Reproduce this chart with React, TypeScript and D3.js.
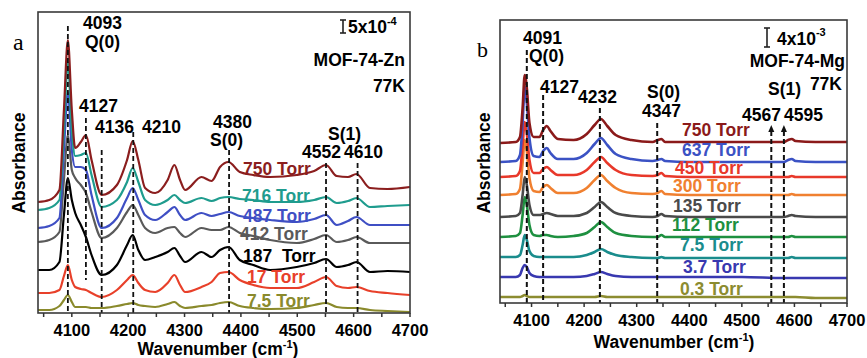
import React from 'react';
import * as d3 from 'd3';

// ---------- Panel a : MOF-74-Zn ----------
const A_WN = [4040,4060,4078,4086,4093,4100,4106,4116,4125,4135,4153,4180,4198,4208,4218,4230,4248,4270,4282,4292,4301,4330,4348,4363,4378,4398,4422,4452,4499,4530,4551,4570,4590,4605,4629,4660,4700];
const A_750 = [111,113,123,203,273,203,165,171,178,153,118,128,153,172,153,125,120,133,148,133,123,136,132,146,151,141,138,136,138,142,148,137,136,139,125,124,126];
const A_716 = [103,105,113,183,251,183,157,158,160,138,106,113,131,145,131,113,108,113,118,113,110,115,112,115,116,114,113,111,111,113,116,110,112,115,106,107,108];
const A_487 = [85,87,95,163,221,163,146,146,143,118,85,95,115,125,113,98,93,101,106,98,93,100,97,99,101,97,95,93,91,94,98,88,92,96,88,88,88];
const A_412 = [71,73,81,133,178,143,135,128,120,101,75,85,101,108,98,85,80,85,86,80,76,85,83,83,86,80,77,73,70,74,78,71,73,76,70,70,70];
const A_187 = [43,43,51,98,135,113,100,88,76,58,38,48,68,78,63,53,56,61,65,57,51,61,56,63,66,53,48,43,46,50,54,46,48,51,41,42,41];
const A_17 = [20,20,23,37,48,33,26,24,23,20,16,23,33,38,30,23,21,30,38,28,21,26,31,40,41,33,28,25,25,31,36,27,25,26,22,20,18];
const A_7_5 = [3,3,7,13,18,11,6,6,6,5,5,7,9,10,8,7,6,9,11,7,5,7,8,10,11,7,5,4,5,8,10,6,5,5,3,2,1];
const A_SERIES = [A_7_5, A_17, A_187, A_412, A_487, A_716, A_750];
const A_NAMES = ['7.5 Torr', '17 Torr', '187  Torr', '412 Torr', '487 Torr', '716 Torr', '750 Torr'];
const A_COLORS = ['#8a8a2c', '#e8402a', '#000000', '#5a5a5a', '#3f4fc4', '#1f9c8e', '#8b1e1e'];
const A_LINE_WN = [4093, 4125, 4153, 4209, 4379, 4551, 4607];
const A_LINE_TOP = [287, 195, 163, 181, 163, 150, 150];
const A_LINE_BOTTOM = [0, 33, 0, 0, 0, 0, 0];

// ---------- Panel b : MOF-74-Mg ----------
const B_WN = [4040,4070,4078,4083,4087,4091,4096,4104,4115,4122,4129,4136,4150,4180,4205,4220,4232,4244,4260,4290,4330,4340,4347,4354,4400,4500,4580,4588,4595,4602,4640,4700];
const B_750 = [160,161,166,195,228,215,180,166,166,173,177,172,164,163,169,178,184,177,168,163,161,163,164,161,161,161,161,163,164,162,161,161];
const B_637 = [141,142,148,180,216,200,165,147,146,152,155,150,144,144,150,159,165,158,149,144,142,143,144,142,141,141,141,143,144,142,141,141];
const B_450 = [126,127,132,158,181,170,143,130,130,134,136,133,128,128,133,141,146,140,133,128,127,128,130,127,126,126,126,126,127,126,126,126];
const B_300 = [108,109,114,140,163,152,125,112,111,116,118,115,110,110,115,123,128,122,115,110,109,110,112,109,108,108,108,108,109,108,108,108];
const B_135 = [86,87,90,108,126,118,98,88,88,89,90,89,87,87,90,96,101,96,90,87,86,87,89,87,86,86,86,87,88,87,86,86];
const B_112 = [66,67,70,88,106,98,78,68,67,68,68,67,66,67,70,76,81,76,70,67,66,66,68,66,66,66,66,66,67,66,66,66];
const B_7_5 = [46,46,48,58,68,63,52,47,46,46,46,46,46,46,48,51,54,51,48,46,45,45,46,45,45,45,45,45,46,45,45,45];
const B_3_7 = [26,26,28,35,38,36,30,27,26,26,26,26,26,26,27,29,31,29,27,26,26,26,26,26,26,26,25,25,25,25,25,25];
const B_0_3 = [6,6,6,7,8,7,6,6,6,6,6,6,6,6,6,6,7,6,6,6,6,6,6,6,6,6,6,6,6,6,5,5];
const B_SERIES = [B_0_3, B_3_7, B_7_5, B_112, B_135, B_300, B_450, B_637, B_750];
const B_NAMES = ['0.3 Torr', '3.7 Torr', '7.5 Torr', '112 Torr', '135 Torr', '300 Torr', '450 Torr', '637 Torr', '750 Torr'];
const B_COLORS = ['#8c8c30', '#3838b0', '#1a8c8c', '#1e9040', '#4a4a4a', '#f08030', '#e8382a', '#3b52c4', '#8b1a1a'];
const B_LINE_WN = [4091, 4122, 4230, 4339, 4556, 4580];
const B_LINE_TOP = [253, 208, 195, 180, 172, 172];

const X_TICKS = [4100, 4200, 4300, 4400, 4500, 4600, 4700];
const X_MINOR = [4050, 4100, 4150, 4200, 4250, 4300, 4350, 4400, 4450, 4500, 4550, 4600, 4650, 4700];

const FONT = '"Liberation Sans", Arial, Helvetica, sans-serif';

type Frame = { l: number; t: number; r: number; b: number };

function Axis({ x, f, labelBaseline, titleBaseline, titleX }: { x: d3.ScaleLinear<number, number>; f: Frame; labelBaseline: number; titleBaseline: number; titleX: number }) {
  return (
    <g>
      <rect x={f.l} y={f.t} width={f.r - f.l} height={f.b - f.t} fill="none" stroke="#3a3a3a" strokeWidth={1.6} />
      {X_MINOR.map((v) => (
        <line key={v} x1={x(v)} x2={x(v)} y1={f.b} y2={f.b + 4} stroke="#333" strokeWidth={1.5} />
      ))}
      {X_TICKS.map((v) => (
        <text key={v} x={x(v)} y={labelBaseline} textAnchor="middle" fontSize={16.5} fontWeight="bold" fontFamily={FONT}>{v}</text>
      ))}
      <text x={titleX} y={titleBaseline} textAnchor="middle" fontSize={17.5} fontWeight="bold" fontFamily={FONT}>
        Wavenumber (cm<tspan fontSize={11} dy={-7}>-1</tspan><tspan dy={7}>)</tspan>
      </text>
    </g>
  );
}

export default function App() {
  const fa: Frame = { l: 38, t: 12, r: 410, b: 313 };
  const xa = d3.scaleLinear().domain([4040, 4700]).range([fa.l, fa.r]);
  const ya = d3.scaleLinear().domain([0, 301]).range([fa.b, fa.t]);
  const lineA = d3.line<number>().x((_, i) => xa(A_WN[i])).y((d) => ya(d)).curve(d3.curveMonotoneX);

  const fb: Frame = { l: 500, t: 20, r: 847, b: 303 };
  const xb = d3.scaleLinear().domain([4040, 4700]).range([fb.l, fb.r]);
  const yb = d3.scaleLinear().domain([0, 283]).range([fb.b, fb.t]);
  const lineB = d3.line<number>().x((_, i) => xb(B_WN[i])).y((d) => yb(d)).curve(d3.curveMonotoneX);

  const txt = { fontFamily: FONT, fontWeight: 'bold' as const, fontSize: 17.5 };

  const aPos = [[247, 307], [247, 283], [243, 262], [240, 240], [243, 222], [242, 202], [243, 175]];
  const bPos = [[680, 295], [683, 273], [680, 251], [672, 231], [673, 212], [673, 192], [675, 174], [682, 156], [682, 136]];

  return (
    <svg width={867} height={358} style={{ position: 'absolute', left: 0, top: 0, background: '#fff' }}>
      <rect x={0} y={0} width={867} height={358} fill="#fff" />
      {/* Panel a */}
      <g>
        {A_SERIES.map((s, i) => (
          <path key={i} d={lineA(s) || ''} fill="none" stroke={A_COLORS[i]} strokeWidth={2.2} strokeLinejoin="round" />
        ))}
        {A_LINE_WN.map((w, i) => (
          <line key={w} x1={xa(w)} x2={xa(w)} y1={ya(A_LINE_TOP[i])} y2={ya(A_LINE_BOTTOM[i])} stroke="#111" strokeWidth={1.8} strokeDasharray="5,3" />
        ))}
        <Axis x={xa} f={fa} labelBaseline={336} titleBaseline={355} titleX={218} />
        <text x={13} y={50} fontSize={24} fontFamily='"Liberation Serif", "Times New Roman", serif'>a</text>
        <text transform="translate(25,163) rotate(-90)" textAnchor="middle" {...txt}>Absorbance</text>
        <text x={83} y={29} {...txt}>4093</text>
        <text x={85} y={48} {...txt}>Q(0)</text>
        <text x={79} y={112} {...txt}>4127</text>
        <text x={95} y={133} {...txt}>4136</text>
        <text x={142} y={133} {...txt}>4210</text>
        <text x={213} y={128} {...txt}>4380</text>
        <text x={210} y={146} {...txt}>S(0)</text>
        <text x={328} y={140} {...txt}>S(1)</text>
        <text x={302} y={158} {...txt}>4552</text>
        <text x={344} y={158} {...txt}>4610</text>
        <text x={405} y={66} textAnchor="end" {...txt}>MOF-74-Zn</text>
        <text x={405} y={92} textAnchor="end" {...txt}>77K</text>
        <g stroke="#222" strokeWidth={1.6}>
          <line x1={343} x2={343} y1={20} y2={33} />
          <line x1={340} x2={346} y1={20} y2={20} />
          <line x1={340} x2={346} y1={33} y2={33} />
        </g>
        <text x={348} y={33} {...txt}>5x10<tspan fontSize={11} dy={-8}>-4</tspan></text>
        {A_NAMES.map((n, i) => (
          <text key={n} x={aPos[i][0]} y={aPos[i][1]} {...txt} fill={A_COLORS[i]} style={{ whiteSpace: 'pre' }}>{n}</text>
        ))}
      </g>

      {/* Panel b */}
      <g>
        {B_SERIES.map((s, i) => (
          <path key={i} d={lineB(s) || ''} fill="none" stroke={B_COLORS[i]} strokeWidth={2.6} strokeLinejoin="round" />
        ))}
        {B_LINE_WN.map((w, i) => (
          <line key={w} x1={xb(w)} x2={xb(w)} y1={yb(B_LINE_TOP[i])} y2={yb(0)} stroke="#111" strokeWidth={2} strokeDasharray="5,3" />
        ))}
        {B_LINE_WN.slice(4).map((w) => (
          <path key={'t' + w} d={`M${xb(w) - 3},${yb(172) + 1} L${xb(w)},${yb(172) - 6} L${xb(w) + 3},${yb(172) + 1} Z`} fill="#111" />
        ))}
        <Axis x={xb} f={fb} labelBaseline={326} titleBaseline={348} titleX={674} />
        <text x={477} y={57} fontSize={22} fontFamily='"Liberation Serif", "Times New Roman", serif'>b</text>
        <text transform="translate(490,163) rotate(-90)" textAnchor="middle" {...txt}>Absorbance</text>
        <text x={523} y={44} {...txt}>4091</text>
        <text x={529} y={62} {...txt}>Q(0)</text>
        <text x={540} y={93} {...txt}>4127</text>
        <text x={578} y={103} {...txt}>4232</text>
        <text x={647} y={98} {...txt}>S(0)</text>
        <text x={642} y={117} {...txt}>4347</text>
        <text x={768} y={95} {...txt}>S(1)</text>
        <text x={742} y={121} {...txt}>4567</text>
        <text x={784} y={121} {...txt}>4595</text>
        <text x={845} y={67} textAnchor="end" {...txt}>MOF-74-Mg</text>
        <text x={842} y={90} textAnchor="end" {...txt}>77K</text>
        <g stroke="#222" strokeWidth={1.6}>
          <line x1={767} x2={767} y1={28} y2={47} />
          <line x1={764} x2={770} y1={28} y2={28} />
          <line x1={764} x2={770} y1={47} y2={47} />
        </g>
        <text x={777} y={45} {...txt}>4x10<tspan fontSize={11} dy={-9}>-3</tspan></text>
        {B_NAMES.map((n, i) => (
          <text key={n} x={bPos[i][0]} y={bPos[i][1]} {...txt} fill={B_COLORS[i]}>{n}</text>
        ))}
      </g>
    </svg>
  );
}
